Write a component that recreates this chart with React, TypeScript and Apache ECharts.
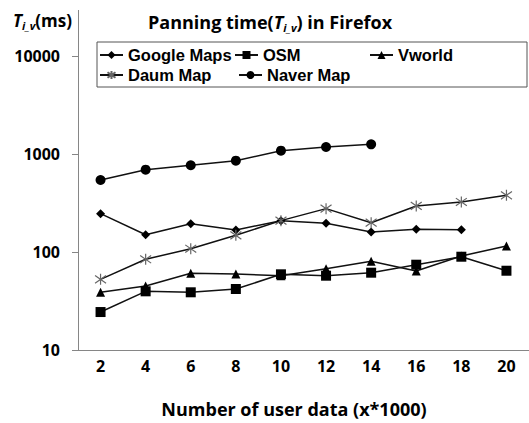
import React, { useEffect, useRef } from 'react';
import * as echarts from 'echarts';

const categories = ['2', '4', '6', '8', '10', '12', '14', '16', '18', '20'];
const googleMaps = [246, 150, 194, 168, 208, 196, 160, 171, 169];
const osm = [24.4, 39.7, 38.8, 41.9, 59.2, 57.3, 61.5, 74.2, 89.5, 64.4];
const vworld = [38.8, 45, 60.6, 59.7, 57.3, 67.5, 80.4, 64, 91, 115];
const daumMap = [52.6, 84.3, 108, 148, 209, 277, 199, 295, 324, 379];
const naverMap = [543, 692, 768, 855, 1081, 1178, 1256];

const seriesNames = ['Google Maps', 'OSM', 'Vworld', 'Daum Map', 'Naver Map'];

const FONT = 'Open Sans';
const LEGEND_FONT = 'Liberation Sans';
const AXIS_GRAY = '#868686';
const STAR = 'path://M5,0L5,10M0.5,1.5L9.5,8.5M9.5,1.5L0.5,8.5';

export default function App() {
  const ref = useRef<HTMLDivElement>(null);

  useEffect(() => {
    const chart = echarts.init(ref.current!, null, { renderer: 'svg' });

    const lineStyle = { color: '#111', width: 1.5 };
    const mk = (name: string, data: number[], symbol: string, size: number, itemStyle: any) => ({
      name,
      type: 'line',
      data,
      symbol,
      symbolSize: size,
      showAllSymbol: true,
      lineStyle,
      itemStyle,
      emphasis: { disabled: true },
    });

    const legendBase = {
      orient: 'horizontal',
      padding: 0,
      itemWidth: 23,
      itemHeight: 10,
      itemGap: 0,
      selectedMode: false,
      textStyle: { fontFamily: LEGEND_FONT, fontWeight: 'bold', fontSize: 16.5, lineHeight: 18, color: '#000', padding: [0, 0, 0, 0] },
    };

    const richTitle = (size: number, subSize: number) => ({
      a: { fontFamily: FONT, fontWeight: 'bold', fontSize: size, color: '#000', lineHeight: 22 },
      t: { fontFamily: FONT, fontWeight: 'bold', fontStyle: 'italic', fontSize: size, color: '#000', lineHeight: 22 },
      s: { fontFamily: FONT, fontWeight: 'bold', fontStyle: 'italic', fontSize: subSize, color: '#000', lineHeight: 13, verticalAlign: 'bottom' },
    });

    chart.setOption({
      animation: false,
      backgroundColor: '#fff',
      title: [
        {
          text: '{a|Panning time(}{t|T}{s|i_v}{a|) in Firefox}',
          left: 148,
          top: 11,
          padding: 0,
          textStyle: { rich: richTitle(18, 11) },
        },
        {
          text: '{t|T}{s|i_v}{a|(ms)}',
          left: 13,
          top: 9,
          padding: 0,
          textStyle: { rich: richTitle(17, 11) },
        },
      ],
      legend: [
        { ...legendBase, data: [seriesNames[0]], left: 99, top: 46 },
        { ...legendBase, data: [seriesNames[1]], left: 234, top: 46 },
        { ...legendBase, data: [seriesNames[2]], left: 369, top: 46 },
        { ...legendBase, data: [seriesNames[3]], left: 99, top: 66 },
        { ...legendBase, data: [seriesNames[4]], left: 238, top: 66 },
      ],
      graphic: [
        {
          type: 'rect',
          shape: { x: 97, y: 42, width: 430, height: 45 },
          style: { fill: 'none', stroke: '#555', lineWidth: 1 },
          z: 0,
        },
        {
          type: 'line',
          shape: { x1: 78.5, y1: 10, x2: 78.5, y2: 56 },
          style: { stroke: AXIS_GRAY, lineWidth: 1 },
        },
      ],
      grid: { left: 78, top: 56, width: 457, height: 294, containLabel: false },
      xAxis: {
        type: 'category',
        data: categories,
        boundaryGap: true,
        axisLine: { lineStyle: { color: AXIS_GRAY, width: 1 } },
        axisTick: { length: 6, lineStyle: { color: AXIS_GRAY } },
        axisLabel: { fontFamily: FONT, fontWeight: 'bold', fontSize: 16, color: '#000', margin: 8 },
        splitLine: { show: false },
        name: 'Number of user data (x*1000)',
        nameLocation: 'middle',
        nameGap: 50,
        nameTextStyle: { fontFamily: FONT, fontWeight: 'bold', fontSize: 18, color: '#000', padding: [0, 19, 0, 0] },
      },
      yAxis: {
        type: 'log',
        logBase: 10,
        min: 10,
        max: 10000,
        axisLine: { show: true, lineStyle: { color: AXIS_GRAY, width: 1 } },
        axisTick: { show: true, length: 6, lineStyle: { color: AXIS_GRAY } },
        minorTick: { show: false },
        splitLine: { show: false },
        axisLabel: {
          fontFamily: FONT,
          fontWeight: 'bold',
          fontSize: 16,
          color: '#000',
          margin: 18,
          formatter: (v: number) => String(Math.round(v)),
        },
      },
      series: [
        mk(seriesNames[0], googleMaps, 'diamond', 9, { color: '#000' }),
        mk(seriesNames[1], osm, 'rect', 10, { color: '#000' }),
        mk(seriesNames[2], vworld, 'triangle', 9, { color: '#000' }),
        mk(seriesNames[3], daumMap, STAR, 11, { color: '#666', borderColor: '#666', borderWidth: 1.2 }),
        mk(seriesNames[4], naverMap, 'circle', 10, { color: '#000' }),
      ],
    });

    return () => chart.dispose();
  }, []);

  return (
    <div
      ref={ref}
      style={{ position: 'fixed', left: 0, top: 0, width: 529, height: 423 }}
    />
  );
}
